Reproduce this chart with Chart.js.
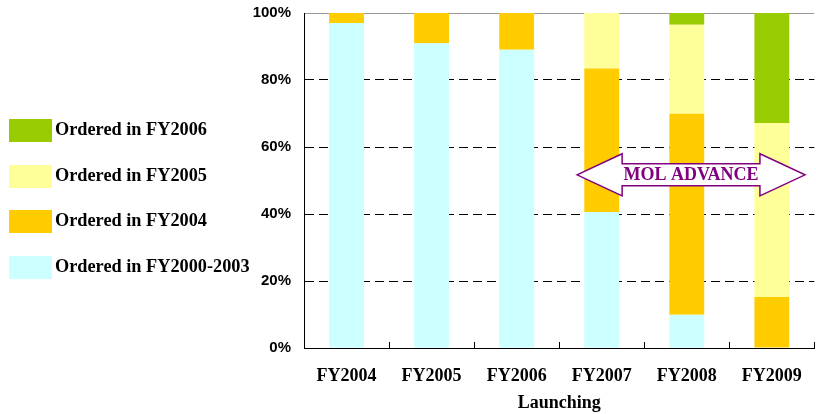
<!DOCTYPE html>
<html>
<head>
<meta charset="utf-8">
<script src="https://cdn.jsdelivr.net/npm/chart.js@4"></script>
<style>
  body { margin: 0; overflow: hidden; background: #fff; }
  #wrap { position: relative; width: 820px; height: 414px; }
  #legend { position: absolute; left: 0; top: 0; }
  .item { position: absolute; left: 9px; height: 23px; white-space: nowrap; }
  .box { position: absolute; left: 0; top: 0; width: 43px; height: 23px; }
  .txt { position: absolute; left: 46px; top: 0; line-height: 23px;
         font: bold 18.3px "Liberation Serif", "Times New Roman", serif; color: #000; }
</style>
</head>
<body>
<div id="wrap">
  <canvas id="chart"></canvas>
  <div id="legend"></div>
</div>
<script>
var labels = ['FY2004', 'FY2005', 'FY2006', 'FY2007', 'FY2008', 'FY2009'];
var fy0003 = [97, 91, 89, 40.6, 9.9, 0];
var fy2004 = [3, 9, 11, 42.8, 60, 15.2];
var fy2005 = [0, 0, 0, 16.6, 26.6, 52];
var fy2006 = [0, 0, 0, 0, 3.5, 32.8];
var yTicks = [0, 20, 40, 60, 80, 100];

var serif = '"Liberation Serif", "Times New Roman", serif';

// arrow "MOL ADVANCE" across FY2007-FY2009
var arrowPlugin = {
    id: 'arrow',
    afterDatasetsDraw: function(chart) {
        var x = chart.scales.x, y = chart.scales.y, ctx = chart.ctx;
        var cw = x.getPixelForValue(1) - x.getPixelForValue(0);
        var x0 = x.getPixelForValue(3) - 0.29 * cw;
        var x1 = x.getPixelForValue(5) + 0.39 * cw;
        var head = 0.53 * cw;
        var yc = y.getPixelForValue(51.7);
        var hTop = y.getPixelForValue(58), hBot = y.getPixelForValue(45.4);
        var sTop = y.getPixelForValue(55), sBot = y.getPixelForValue(48.4);
        ctx.save();
        ctx.beginPath();
        ctx.moveTo(x0, yc);
        ctx.lineTo(x0 + head, hTop);
        ctx.lineTo(x0 + head, sTop);
        ctx.lineTo(x1 - head, sTop);
        ctx.lineTo(x1 - head, hTop);
        ctx.lineTo(x1, yc);
        ctx.lineTo(x1 - head, hBot);
        ctx.lineTo(x1 - head, sBot);
        ctx.lineTo(x0 + head, sBot);
        ctx.lineTo(x0 + head, hBot);
        ctx.closePath();
        ctx.fillStyle = '#fff';
        ctx.fill();
        ctx.lineWidth = 1.5;
        ctx.strokeStyle = '#800080';
        ctx.stroke();
        ctx.fillStyle = '#800080';
        ctx.font = 'bold 18px ' + serif;
        ctx.textAlign = 'center';
        ctx.textBaseline = 'middle';
        ctx.fillText('MOL ADVANCE', (x0 + x1) / 2, yc + 1);
        ctx.restore();
    }
};

// small inward tick marks at category boundaries
var tickPlugin = {
    id: 'xticks',
    afterDraw: function(chart) {
        var x = chart.scales.x, ctx = chart.ctx, b = chart.chartArea.bottom;
        var cw = x.getPixelForValue(1) - x.getPixelForValue(0);
        ctx.save();
        ctx.strokeStyle = '#000';
        ctx.lineWidth = 1;
        for (var i = 0; i < labels.length; i++) {
            var px = Math.round(x.getPixelForValue(i) + cw / 2) + 0.5;
            ctx.beginPath();
            ctx.moveTo(px, b);
            ctx.lineTo(px, b - 6);
            ctx.stroke();
        }
        ctx.restore();
    }
};

var datasets = [
    { label: 'Ordered in FY2000-2003', data: fy0003, backgroundColor: '#CCFFFF' },
    { label: 'Ordered in FY2004', data: fy2004, backgroundColor: '#FFCC00' },
    { label: 'Ordered in FY2005', data: fy2005, backgroundColor: '#FFFF99' },
    { label: 'Ordered in FY2006', data: fy2006, backgroundColor: '#99CC00' }
];
datasets.forEach(function(d) {
    d.borderWidth = 0;
    d.barPercentage = 0.41;
    d.categoryPercentage = 1.0;
});

var chart = new Chart(document.getElementById('chart'), {
    type: 'bar',
    data: { labels: labels, datasets: datasets },
    options: {
        responsive: true,
        maintainAspectRatio: false,
        animation: false,
        layout: { padding: { left: 240, top: 13, right: 2, bottom: 0 } },
        plugins: {
            legend: { display: false },
            tooltip: { enabled: false }
        },
        scales: {
            x: {
                stacked: true,
                afterFit: function(scale) { scale.height = 66; },
                grid: { display: false, drawTicks: false },
                border: { display: true, color: '#000', width: 1 },
                ticks: {
                    color: '#000',
                    padding: 18,
                    font: { family: serif, size: 18, weight: 'bold' }
                },
                title: {
                    display: true,
                    text: 'Launching',
                    color: '#000',
                    padding: { top: 2, bottom: 0 },
                    font: { family: serif, size: 18, weight: 'bold' }
                }
            },
            y: {
                stacked: true,
                min: 0,
                max: 100,
                afterBuildTicks: function(scale) {
                    scale.ticks = yTicks.map(function(v) { return { value: v }; });
                },
                afterFit: function(scale) {
                    scale.width = 64;
                    scale.paddingTop = 0;
                    scale.paddingBottom = 0;
                },
                grid: {
                    drawTicks: false,
                    color: function(ctx) { return ctx.tick && ctx.tick.value === 100 ? '#999' : '#000'; },
                    lineWidth: 1
                },
                border: {
                    display: true,
                    color: '#000',
                    width: 1,
                    dash: function(ctx) { return ctx.tick && ctx.tick.value === 100 ? [] : [9, 5]; }
                },
                ticks: {
                    color: '#000',
                    padding: 13,
                    font: { family: '"Liberation Sans", Arial, sans-serif', size: 15, weight: 'bold' },
                    callback: function(v) { return v + '%'; }
                }
            }
        }
    },
    plugins: [arrowPlugin, tickPlugin]
});

// legend on the left, top entry = last dataset
var legendTops = [119, 165, 210, 256];
var legend = document.getElementById('legend');
datasets.slice().reverse().forEach(function(d, i) {
    var item = document.createElement('div');
    item.className = 'item';
    item.style.top = legendTops[i] + 'px';
    item.innerHTML = '<div class="box" style="background:' + d.backgroundColor + '"></div>' +
                     '<div class="txt">' + d.label + '</div>';
    legend.appendChild(item);
});
</script>
</body>
</html>
